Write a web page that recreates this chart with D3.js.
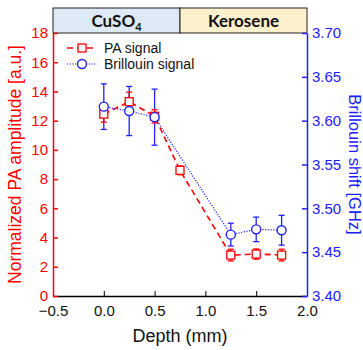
<!DOCTYPE html>
<html>
<head>
<meta charset="utf-8">
<script src="https://cdn.jsdelivr.net/npm/d3@7"></script>
<style>
  body { margin: 0; background: #fff; }
  text { font-family: "Liberation Sans", Arial, sans-serif; }
</style>
</head>
<body>
<script>
// data
const depth = [0, 0.25, 0.5, 0.75, 1.25, 1.5, 1.75];
const paSignal = [12.45, 13.3, 12.3, 8.6, 2.8, 2.87, 2.8];
const paError = [0.55, 0.65, 0.45, 0.3, 0.4, 0.35, 0.4];
const brDepth = [0, 0.25, 0.5, 1.25, 1.5, 1.75];
const brShift = [3.616, 3.611, 3.604, 3.47, 3.476, 3.475];
const brError = [0.026, 0.028, 0.032, 0.013, 0.014, 0.017];
const xTicks = [-0.5, 0, 0.5, 1.0, 1.5, 2.0];
const yLeftTicks = [0, 2, 4, 6, 8, 10, 12, 14, 16, 18];
const yRightTicks = [3.40, 3.45, 3.50, 3.55, 3.60, 3.65, 3.70];
const regions = [{name: "CuSO", sub: "4", from: -0.5, to: 0.75, fill: "#dde9f5"},
                 {name: "Kerosene", sub: "", from: 0.75, to: 2.0, fill: "#fdf0cd"}];

const red = "#ff0000", blue = "#2020ff";
const margin = {top: 33, right: 56, bottom: 54, left: 53},
    width = 363 - margin.left - margin.right,
    height = 350 - margin.top - margin.bottom;

const svg = d3.select("body").append("svg")
    .attr("width", 363)
    .attr("height", 350)
    .append("g")
    .attr("transform", "translate(" + margin.left + "," + margin.top + ")");

const x = d3.scaleLinear().domain([-0.5, 2.0]).range([0, width]);
const yL = d3.scaleLinear().domain([0, 18]).range([height, 0]);
const yR = d3.scaleLinear().domain([3.40, 3.70]).range([height, 0]);

// header band
const bandH = 25;
regions.forEach(function(r) {
    svg.append("rect")
        .attr("x", x(r.from)).attr("y", -bandH)
        .attr("width", x(r.to) - x(r.from)).attr("height", bandH)
        .attr("fill", r.fill).attr("stroke", "#222").attr("stroke-width", 1);
    const t = svg.append("text")
        .attr("x", (x(r.from) + x(r.to)) / 2)
        .attr("y", -bandH / 2 + 6)
        .attr("text-anchor", "middle")
        .style("font-family", "Lato, 'Open Sans', sans-serif")
        .style("font-weight", "bold")
        .style("font-size", "17px")
        .attr("fill", "#111");
    t.append("tspan").text(r.name);
    if (r.sub) t.append("tspan").attr("dy", 4).style("font-size", "11px").text(r.sub);
});

// axes
const xAxis = svg.append("g")
    .attr("transform", "translate(0," + height + ")")
    .call(d3.axisBottom(x).tickValues(xTicks).tickFormat(d3.format(".1f")).tickSizeInner(-5).tickSizeOuter(0).tickPadding(9));
xAxis.select(".domain").attr("stroke", "#000").attr("stroke-width", 1.5);
xAxis.selectAll("text").style("font-size", "15px").attr("fill", "#111");

const yAxisL = svg.append("g")
    .call(d3.axisLeft(yL).tickValues(yLeftTicks).tickSizeInner(-5).tickSizeOuter(0).tickPadding(5));
yAxisL.selectAll("line, .domain").attr("stroke", red).attr("stroke-width", 1.5);
yAxisL.selectAll("text").style("font-size", "15px").attr("fill", red);

const yAxisR = svg.append("g")
    .attr("transform", "translate(" + width + ",0)")
    .call(d3.axisRight(yR).tickValues(yRightTicks).tickFormat(d3.format(".2f")).tickSizeInner(-5).tickSizeOuter(0).tickPadding(5));
yAxisR.selectAll("line, .domain").attr("stroke", blue).attr("stroke-width", 1.5);
yAxisR.selectAll("text").style("font-size", "15px").attr("fill", blue);

// axis labels
svg.append("text")
    .attr("x", width / 2).attr("y", height + 46)
    .attr("text-anchor", "middle")
    .style("font-size", "18px").attr("fill", "#111")
    .text("Depth (mm)");

svg.append("text")
    .attr("transform", "translate(" + (-32) + "," + (height / 2) + ") rotate(-90)")
    .attr("text-anchor", "middle")
    .style("font-size", "17.5px").attr("fill", red)
    .text("Normalized PA amplitude [a.u.]");

svg.append("text")
    .attr("transform", "translate(" + (width + 42) + "," + (height / 2) + ") rotate(90)")
    .attr("text-anchor", "middle")
    .style("font-size", "16.5px").attr("fill", blue)
    .text("Brillouin shift [GHz]");

const pa = depth.map(function(d, i) { return {x: d, y: paSignal[i], e: paError[i]}; });
const br = brDepth.map(function(d, i) { return {x: d, y: brShift[i], e: brError[i]}; });

// Brillouin error bars
br.forEach(function(d) {
    const g = svg.append("g").attr("stroke", blue).attr("stroke-width", 1.3);
    g.append("line").attr("x1", x(d.x)).attr("x2", x(d.x)).attr("y1", yR(d.y - d.e)).attr("y2", yR(d.y + d.e));
    g.append("line").attr("x1", x(d.x) - 3).attr("x2", x(d.x) + 3).attr("y1", yR(d.y - d.e)).attr("y2", yR(d.y - d.e));
    g.append("line").attr("x1", x(d.x) - 3).attr("x2", x(d.x) + 3).attr("y1", yR(d.y + d.e)).attr("y2", yR(d.y + d.e));
});

// PA error bars
pa.forEach(function(d) {
    const g = svg.append("g").attr("stroke", red).attr("stroke-width", 1.3);
    g.append("line").attr("x1", x(d.x)).attr("x2", x(d.x)).attr("y1", yL(d.y - d.e)).attr("y2", yL(d.y + d.e));
    g.append("line").attr("x1", x(d.x) - 3).attr("x2", x(d.x) + 3).attr("y1", yL(d.y - d.e)).attr("y2", yL(d.y - d.e));
    g.append("line").attr("x1", x(d.x) - 3).attr("x2", x(d.x) + 3).attr("y1", yL(d.y + d.e)).attr("y2", yL(d.y + d.e));
});

// lines
svg.append("path").datum(pa)
    .attr("fill", "none").attr("stroke", red).attr("stroke-width", 1.6)
    .attr("stroke-dasharray", "6,4")
    .attr("d", d3.line().x(d => x(d.x)).y(d => yL(d.y)));

svg.append("path").datum(br)
    .attr("fill", "none").attr("stroke", blue).attr("stroke-width", 1.2)
    .attr("stroke-dasharray", "1.2,1.5")
    .attr("d", d3.line().x(d => x(d.x)).y(d => yR(d.y)));

// markers
svg.selectAll(".sq").data(pa).enter().append("rect")
    .attr("x", d => x(d.x) - 4).attr("y", d => yL(d.y) - 4)
    .attr("width", 8).attr("height", 8)
    .attr("fill", "#fff").attr("stroke", red).attr("stroke-width", 1.3);

svg.selectAll(".ci").data(br).enter().append("circle")
    .attr("cx", d => x(d.x)).attr("cy", d => yR(d.y)).attr("r", 4.5)
    .attr("fill", "#fff").attr("stroke", blue).attr("stroke-width", 1.4);

// Handmade legend
const lg = svg.append("g").attr("transform", "translate(12,15)");
lg.append("line").attr("x1", 2).attr("x2", 32).attr("y1", 0).attr("y2", 0)
    .attr("stroke", red).attr("stroke-width", 1.6).attr("stroke-dasharray", "6,4").attr("stroke-dashoffset", 0);
lg.append("rect").attr("x", 13).attr("y", -4).attr("width", 8).attr("height", 8)
    .attr("fill", "#fff").attr("stroke", red).attr("stroke-width", 1.3);
lg.append("text").attr("x", 39).attr("y", 5).style("font-size", "14px").attr("fill", "#111").text("PA signal");
lg.append("line").attr("x1", 2).attr("x2", 32).attr("y1", 16).attr("y2", 16)
    .attr("stroke", blue).attr("stroke-width", 1.2).attr("stroke-dasharray", "1.2,1.5");
lg.append("circle").attr("cx", 17).attr("cy", 16).attr("r", 4.5)
    .attr("fill", "#fff").attr("stroke", blue).attr("stroke-width", 1.4);
lg.append("text").attr("x", 39).attr("y", 21).style("font-size", "14px").attr("fill", "#111").text("Brillouin signal");
</script>
</body>
</html>
